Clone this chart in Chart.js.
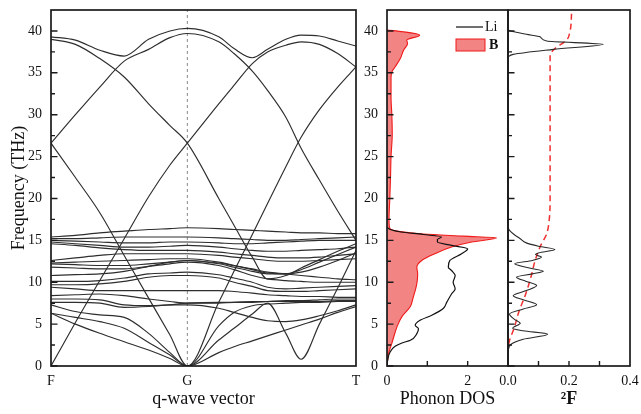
<!DOCTYPE html>
<html>
<head>
<meta charset="utf-8">
<script src="https://cdn.jsdelivr.net/npm/chart.js@4.4.1/dist/chart.umd.min.js"></script>
<style>
    html, body { margin: 0; padding: 0; background: #fff; }
    #wrap { position: relative; width: 641px; height: 414px; overflow: hidden; }
    canvas { position: absolute; top: 0; }
</style>
</head>
<body>
<div id="wrap">
    <canvas id="bands" width="362" height="414" style="left:0"></canvas>
    <canvas id="dos" width="153" height="414" style="left:356px"></canvas>
    <canvas id="a2f" width="151" height="414" style="left:490px"></canvas>
</div>
<script>
// k-path positions (F - G - T) and tick labels
const kPath       = [0, 0.08, 0.16, 0.24, 0.32, 0.39, 0.447, 0.55, 0.60, 0.66, 0.71, 0.77, 0.82, 0.88, 0.94, 1.0];
const kTickPos    = [0, 0.447, 1];
const kTickLabels = ['F', 'G', 'T'];
const freqMax     = 42.5;

// acoustic-like / folded branches (THz at each kPath point)
const acousticBands = [
    [0, 5.2, 10.2, 15.2, 20.2, 24.0, 26.6, 31.3, 33.5, 36.1, 37.5, 38.3, 38.7, 38.4, 37.3, 35.7],
    [26.6, 22.5, 18.3, 13.2, 8.1, 3.7, 0, 7.6, 11.3, 15.7, 19.4, 23.8, 27.3, 30.6, 33.3, 35.7],
    [6.3, 5.0, 3.9, 2.9, 1.9, 0.9, 0, 1.6, 2.3, 3.0, 3.6, 4.3, 4.9, 5.6, 6.4, 7.1],
    [6.3, 5.8, 5.3, 4.5, 2.8, 1.3, 0, 3.1, 4.5, 6.2, 7.5, 3.9, 0.8, 5.0, 9.3, 13.8],
    [7.3, 6.5, 6.1, 5.8, 3.9, 1.6, 0, 4.8, 6.4, 7.2, 7.4, 7.5, 7.6, 7.6, 7.7, 7.7]
];

// high frequency branches
const highBands = [
    [39.3, 38.9, 37.7, 37.0, 39.0, 40.0, 40.3, 39.3, 37.9, 36.8, 37.8, 39.0, 39.5, 39.4, 38.8, 38.2],
    [26.6, 30.0, 33.3, 36.4, 37.8, 39.2, 39.7, 38.7, 37.3, 35.2, 32.9, 29.7, 26.0, 22.2, 18.5, 15.0],
    [39.0, 38.4, 36.7, 34.5, 31.3, 28.7, 26.6, 20.0, 16.8, 13.0, 10.4, 10.8, 11.7, 12.7, 13.7, 14.6]
];

// optical branches
const opticalBands = [
    [15.4, 15.6, 15.9, 16.1, 16.3, 16.4, 16.5, 16.4, 16.3, 16.2, 16.1, 16.0, 15.9, 15.9, 15.8, 15.8],
    [15.2, 15.2, 15.3, 15.4, 15.4, 15.4, 15.4, 15.3, 15.2, 15.1, 15.0, 15.0, 15.1, 15.2, 15.3, 15.4],
    [15.0, 14.9, 14.8, 14.7, 14.7, 14.8, 14.8, 14.7, 14.6, 14.6, 14.7, 14.8, 14.9, 15.0, 15.0, 15.0],
    [14.8, 14.6, 14.4, 14.2, 14.2, 14.3, 14.4, 14.2, 14.0, 13.8, 13.7, 13.7, 13.8, 13.9, 14.0, 14.2],
    [14.6, 14.4, 14.1, 13.9, 13.8, 13.8, 13.8, 13.6, 13.4, 13.2, 13.0, 12.9, 12.9, 13.0, 13.2, 13.4],
    [12.6, 12.9, 13.2, 13.4, 13.4, 13.4, 13.4, 13.2, 13.0, 12.8, 12.6, 12.5, 12.5, 12.6, 12.7, 12.8],
    [12.3, 12.4, 12.5, 12.6, 12.7, 12.8, 12.8, 12.4, 12.0, 11.5, 11.1, 11.0, 11.2, 11.8, 12.6, 13.5],
    [12.2, 12.1, 12.0, 12.0, 12.2, 12.4, 12.6, 12.2, 11.8, 11.3, 11.0, 11.0, 11.5, 12.4, 13.3, 14.2],
    [11.8, 11.7, 11.6, 11.6, 11.9, 12.2, 12.4, 12.0, 11.5, 10.8, 10.4, 10.2, 10.1, 10.0, 10.0, 10.0],
    [10.8, 10.9, 11.0, 11.3, 11.9, 12.4, 12.6, 12.3, 12.0, 11.6, 11.2, 11.0, 10.8, 10.6, 10.4, 10.3],
    [10.1, 10.1, 10.2, 10.5, 11.0, 11.1, 11.2, 10.9, 10.5, 10.0, 9.4, 9.2, 9.3, 9.4, 9.5, 9.6],
    [9.7, 9.7, 9.8, 10.1, 10.6, 10.8, 10.8, 10.5, 10.0, 9.5, 9.0, 8.9, 8.9, 9.0, 9.1, 9.2],
    [9.4, 9.2, 9.0, 9.0, 9.0, 9.0, 9.0, 9.0, 8.9, 8.7, 8.5, 8.4, 8.3, 8.3, 8.2, 8.2],
    [8.4, 8.5, 8.6, 8.4, 8.0, 7.7, 7.5, 7.5, 7.6, 7.6, 7.7, 7.8, 7.8, 7.9, 8.0, 8.0],
    [8.0, 8.0, 7.9, 7.3, 7.2, 7.3, 7.3, 6.9, 6.4, 5.8, 5.4, 5.3, 5.5, 6.0, 6.6, 7.3],
    [7.6, 7.6, 7.5, 7.0, 7.1, 7.3, 7.5, 7.6, 7.6, 7.7, 7.7, 7.7, 7.7, 7.7, 7.8, 7.8]
];

// phonon DOS (value, frequency)
const liFreq = [0, 0.8, 1.7, 2.35, 2.75, 3.07, 3.86, 4.46, 4.86, 5.46, 6.06, 6.9, 7.6, 8.6, 9.2, 10.0, 10.8, 11.4, 11.8, 12.6, 13.4, 14.0, 14.4, 14.8, 15.1, 15.4, 15.7, 16.0, 16.3, 16.6];
const liDos  = [0, 0.02, 0.08, 0.2, 0.37, 0.58, 0.74, 0.78, 0.70, 0.82, 1.11, 1.40, 1.48, 1.60, 1.69, 1.64, 1.69, 1.60, 1.52, 1.56, 1.85, 2.0, 1.6, 1.25, 1.25, 1.35, 0.9, 0.35, 0.08, 0];

const bFreq = [0, 1.5, 2.7, 4.0, 4.7, 5.9, 7.1, 8.2, 9.4, 10.2, 11.0, 11.8, 12.6, 13.4, 14.2, 14.8, 15.3, 15.5, 15.75, 16.1, 16.6, 17.5, 20, 23, 25, 27.7, 30, 32, 34.5, 35.1, 35.7, 36.7, 37.7, 38.5, 38.9, 39.5, 39.9, 40.1];
const bDos  = [0, 0.04, 0.12, 0.2, 0.25, 0.37, 0.58, 0.65, 0.72, 0.75, 0.76, 0.74, 0.86, 1.19, 1.60, 2.10, 2.72, 1.9, 0.9, 0.25, 0.06, 0.05, 0.07, 0.09, 0.1, 0.13, 0.12, 0.1, 0.1, 0.12, 0.2, 0.33, 0.41, 0.51, 0.49, 0.81, 0.4, 0];

// Eliashberg function and its running integral (value, frequency)
const a2fFreq = [1.8, 2.6, 3.2, 3.8, 4.2, 4.5, 5.1, 5.6, 6.2, 6.8, 7.3, 7.9, 8.4, 9.0, 9.6, 10.1, 10.6, 11.0, 11.3, 11.7, 12.2, 12.6, 13.0, 13.3, 13.5, 13.9, 14.3, 14.7, 15.2, 15.7, 16.2, 16.6, 26, 36.9, 37.2, 37.8, 38.4, 38.8, 39.3, 39.6, 39.9, 40.1];
const a2fVal  = [0, 0.01, 0.05, 0.13, 0.05, 0.015, 0.04, 0.02, 0.005, 0.05, 0.094, 0.05, 0.017, 0.06, 0.094, 0.06, 0.028, 0.08, 0.116, 0.07, 0.022, 0.08, 0.11, 0.09, 0.1, 0.154, 0.1, 0.06, 0.04, 0.02, 0.005, 0, null, 0, 0.017, 0.149, 0.312, 0.127, 0.105, 0.06, 0.02, 0];

const lamFreq = [2.6, 3.3, 4.5, 6.3, 8.6, 10.6, 12.6, 14.2, 15.8, 17.4, 20, 37.1, 37.9, 38.9, 39.9, 42.5];
const lamVal  = [0.002, 0.007, 0.02, 0.034, 0.058, 0.075, 0.089, 0.105, 0.127, 0.135, 0.138, 0.138, 0.154, 0.192, 0.203, 0.209];

const dosXLabels = ['0', '', '2', ''];
const a2fXLabels = ['0.0', '', '0.2', '', '0.4'];

Chart.defaults.font.family = '"Liberation Serif", "Times New Roman", serif';
Chart.defaults.color = '#111';
Chart.defaults.animation = false;

const INK = '#1a1a1a';

// frame box + inward tick marks
const frameTicks = {
    id: 'frameTicks',
    afterDatasetsDraw(chart, args, opts) {
        const { ctx, chartArea: a, scales: { x, y } } = chart;
        ctx.save();
        ctx.strokeStyle = INK;
        ctx.lineWidth = 1.4;
        ctx.beginPath();
        if (opts.left) {
            const half = y.options.ticks.stepSize / 2;
            y.ticks.forEach(t => {
                const p = y.getPixelForValue(t.value);
                ctx.moveTo(a.left, p); ctx.lineTo(a.left + 6.5, p);
                const m = y.getPixelForValue(t.value + half);
                if (m > a.top + 2) { ctx.moveTo(a.left, m); ctx.lineTo(a.left + 4, m); }
            });
        }
        if (opts.bottom) {
            x.ticks.forEach(t => {
                if (t.value <= x.min || t.value >= x.max) return;
                const p = x.getPixelForValue(t.value);
                ctx.moveTo(p, a.bottom); ctx.lineTo(p, a.bottom - 5);
            });
        }
        ctx.stroke();
        ctx.lineWidth = 1.7;
        ctx.strokeRect(a.left, a.top, a.right - a.left, a.bottom - a.top);
        ctx.restore();
    }
};

// legend inside the DOS panel
const dosLegend = {
    id: 'dosLegend',
    afterDatasetsDraw(chart) {
        const { ctx, chartArea: a } = chart;
        const [li, b] = chart.data.datasets;
        ctx.save();
        ctx.textBaseline = 'middle';
        ctx.strokeStyle = li.borderColor;
        ctx.lineWidth = 1.2;
        ctx.beginPath();
        ctx.moveTo(a.right - 52, a.top + 17);
        ctx.lineTo(a.right - 25, a.top + 17);
        ctx.stroke();
        ctx.fillStyle = '#111';
        ctx.font = '14px "Liberation Serif"';
        ctx.fillText(li.label, a.right - 23, a.top + 17);

        ctx.fillStyle = b.backgroundColor;
        ctx.fillRect(a.right - 52, a.top + 29, 29, 12);
        ctx.strokeStyle = b.borderColor;
        ctx.lineWidth = 1;
        ctx.strokeRect(a.right - 52, a.top + 29, 29, 12);
        ctx.fillStyle = '#111';
        ctx.font = 'bold 14px "Liberation Serif"';
        ctx.fillText(b.label, a.right - 19, a.top + 35);
        ctx.restore();
    }
};

function fixWidth(w) {
    return s => { s.width = w; s.paddingTop = 0; s.paddingBottom = 0; };
}
function fixHeight(h) {
    return s => { s.height = h; s.paddingLeft = 0; s.paddingRight = 0; };
}

const freqAxis = (w, showLabels, title) => ({
    type: 'linear',
    min: 0,
    max: freqMax,
    grid: { display: false, drawTicks: false },
    border: { display: false },
    afterFit: fixWidth(w),
    ticks: { display: showLabels, stepSize: 5, includeBounds: false, padding: 9, font: { size: 14 } },
    title: title ? { display: true, text: title, font: { size: 18 }, padding: { top: 8 } } : { display: false }
});

const bottomAxis = (min, max, step, labels, title, titleWeight) => ({
    type: 'linear',
    min: min,
    max: max,
    grid: { display: false, drawTicks: false },
    border: { display: false },
    afterFit: fixHeight(48),
    ticks: { stepSize: step, autoSkip: false, maxRotation: 0, padding: 7, font: { size: 14 },
             callback: (v, i) => labels[i] },
    title: { display: true, text: title, font: { size: 18, weight: titleWeight || 'normal' }, padding: { bottom: 4 } }
});

function bandSet(vals) {
    return {
        data: vals.map((f, i) => ({ x: kPath[i], y: f })),
        showLine: true,
        borderColor: '#2e2e2e',
        borderWidth: 1.15,
        pointRadius: 0,
        cubicInterpolationMode: 'monotone'
    };
}

const bandSets = [...acousticBands, ...highBands, ...opticalBands].map(bandSet);
bandSets.push({
    data: [{ x: kTickPos[1], y: 0 }, { x: kTickPos[1], y: freqMax }],
    showLine: true,
    borderColor: '#8a8a8a',
    borderWidth: 1,
    borderDash: [3, 3],
    pointRadius: 0
});

const xBands = bottomAxis(0, 1, 1, kTickLabels, 'q-wave vector');
xBands.afterBuildTicks = s => { s.ticks = kTickPos.map(v => ({ value: v })); };

new Chart(document.getElementById('bands'), {
    type: 'scatter',
    data: { datasets: bandSets },
    options: {
        responsive: false,
        events: [],
        layout: { padding: { top: 10, right: 6 } },
        plugins: { legend: { display: false }, tooltip: { enabled: false }, frameTicks: { left: true } },
        scales: { x: xBands, y: freqAxis(51, true, 'Frequency (THz)') }
    },
    plugins: [frameTicks]
});

const pts = (vals, freqs) => vals.map((v, i) => ({ x: v, y: freqs[i] }));

new Chart(document.getElementById('dos'), {
    type: 'line',
    data: {
        datasets: [
            { label: 'Li', data: pts(liDos, liFreq), borderColor: '#111', borderWidth: 1.2,
              pointRadius: 0, fill: false, cubicInterpolationMode: 'monotone' },
            { label: 'B', data: pts(bDos, bFreq), borderColor: '#f01a1a', borderWidth: 1.1,
              backgroundColor: '#f28484', pointRadius: 0, fill: 'origin', cubicInterpolationMode: 'monotone' }
        ]
    },
    options: {
        responsive: false,
        events: [],
        indexAxis: 'y',
        layout: { padding: { top: 10, right: 1 } },
        plugins: { legend: { display: false }, tooltip: { enabled: false }, frameTicks: { left: true, bottom: true } },
        scales: { x: bottomAxis(0, 3, 1, dosXLabels, 'Phonon DOS'), y: freqAxis(31, true, null) }
    },
    plugins: [frameTicks, dosLegend]
});

new Chart(document.getElementById('a2f'), {
    type: 'line',
    data: {
        datasets: [
            { label: 'a2F', data: pts(a2fVal, a2fFreq), borderColor: '#2a2a2a', borderWidth: 1.1,
              pointRadius: 0, fill: false, cubicInterpolationMode: 'monotone' },
            { label: 'lambda', data: pts(lamVal, lamFreq), borderColor: '#f03030', borderWidth: 1.5,
              borderDash: [6, 4], pointRadius: 0, fill: false, cubicInterpolationMode: 'monotone' }
        ]
    },
    options: {
        responsive: false,
        events: [],
        indexAxis: 'y',
        layout: { padding: { top: 10, right: 11 } },
        plugins: { legend: { display: false }, tooltip: { enabled: false }, frameTicks: { left: true, bottom: true } },
        scales: { x: bottomAxis(0, 0.4, 0.1, a2fXLabels, '²F', 'bold'), y: freqAxis(18, false, null) }
    },
    plugins: [frameTicks]
});
</script>
</body>
</html>
